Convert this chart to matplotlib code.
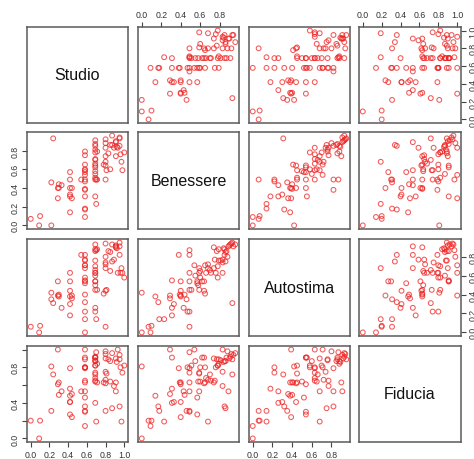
import matplotlib
matplotlib.use('Agg')
import matplotlib.pyplot as plt
import numpy as np

plt.rcParams['font.family'] = ['Liberation Sans', 'DejaVu Sans']

######################### DATA #########################

names = ['Studio', 'Benessere', 'Autostima', 'Fiducia']

studio = [0.09, 0.22, 0.00, 0.58, 0.10, 0.42, 0.58, 0.58, 0.70, 0.29,
          0.44, 0.42, 0.69, 0.58, 0.58, 0.29, 0.42, 0.44, 0.30, 0.33,
          0.22, 0.58, 0.69, 0.80, 0.71, 0.58, 0.42, 0.54, 0.70, 0.69,
          0.58, 0.42, 0.58, 0.98, 0.81, 0.85, 0.69, 0.69, 0.80, 0.78,
          0.58, 0.69, 0.97, 0.69, 0.80, 0.91, 0.96, 0.83, 1.00, 0.58,
          0.71, 0.69, 0.93, 0.89, 0.95, 0.87, 0.69, 0.80, 0.91, 0.69,
          0.24, 0.95, 0.87, 0.69, 0.69, 0.58, 0.80, 0.91, 0.85, 0.69,
          0.58, 0.42, 0.80, 0.69, 0.58, 0.95, 0.30, 0.69, 0.80, 0.58,
          0.92]

benessere = [0.00, 0.00, 0.07, 0.09, 0.10, 0.14, 0.17, 0.18, 0.23, 0.29,
             0.29, 0.31, 0.31, 0.31, 0.38, 0.40, 0.40, 0.40, 0.40, 0.43,
             0.46, 0.47, 0.49, 0.49, 0.49, 0.49, 0.49, 0.49, 0.49, 0.51,
             0.54, 0.57, 0.59, 0.59, 0.59, 0.60, 0.62, 0.64, 0.64, 0.65,
             0.65, 0.66, 0.68, 0.71, 0.74, 0.74, 0.76, 0.77, 0.78, 0.79,
             0.79, 0.81, 0.83, 0.83, 0.85, 0.86, 0.87, 0.88, 0.89, 0.91,
             0.93, 0.94, 0.96, 0.85, 0.78, 0.60, 0.92, 0.90, 0.86, 0.58,
             0.39, 0.33, 0.83, 0.70, 0.57, 0.93, 0.44, 0.55, 0.68, 0.75,
             0.84]

autostima = [0.00, 0.42, 0.06, 0.00, 0.07, 0.38, 0.32, 0.14, 0.14, 0.39,
             0.36, 0.18, 0.26, 0.55, 0.82, 0.54, 0.44, 0.39, 0.38, 0.26,
             0.35, 0.22, 0.22, 0.06, 0.45, 0.54, 0.63, 0.82, 0.87, 0.45,
             0.71, 0.54, 0.68, 0.63, 0.45, 0.65, 0.54, 0.54, 0.44, 0.41,
             0.71, 0.63, 0.68, 0.63, 0.68, 0.90, 0.63, 0.86, 0.58, 0.76,
             0.88, 0.76, 0.63, 0.77, 0.82, 0.75, 0.86, 0.80, 0.91, 0.93,
             0.31, 0.91, 0.93, 0.88, 0.70, 0.58, 0.94, 0.92, 0.85, 0.50,
             0.40, 0.30, 0.74, 0.66, 0.52, 0.95, 0.40, 0.60, 0.72, 0.77,
             0.89]

fiducia = [0.00, 0.81, 0.20, 0.14, 0.20, 0.48, 0.36, 0.31, 0.19, 1.00,
           0.50, 0.56, 0.40, 0.91, 0.79, 0.61, 0.41, 0.24, 0.63, 0.53,
           0.31, 0.80, 0.74, 0.31, 0.63, 0.30, 0.79, 0.53, 0.97, 0.82,
           1.00, 0.27, 0.53, 0.74, 0.73, 0.64, 0.91, 0.91, 0.62, 0.63,
           0.80, 0.68, 0.19, 0.65, 0.90, 0.63, 0.80, 0.89, 0.82, 0.89,
           0.84, 0.88, 1.00, 0.59, 0.36, 0.34, 0.91, 0.98, 0.53, 0.92,
           0.72, 0.94, 0.96, 0.87, 0.82, 0.80, 0.95, 0.90, 0.87, 0.64,
           0.63, 0.41, 0.75, 0.72, 0.46, 0.89, 0.49, 0.87, 0.66, 0.65,
           0.86]

data = [studio, benessere, autostima, fiducia]

# tick labels that R leaves out on the left axis of the last row
hidden_left = {3: [0.2, 0.6, 1.0]}

######################### LAYOUT #########################

W, H = 474, 460
col_px = [(27, 128), (138, 239), (249, 350), (359, 461)]
row_px = [(28, 124), (133, 230), (240, 337), (347, 443)]
frame = '#5a5a5a'


def lims(v):
    lo, hi = min(v), max(v)
    pad = 0.04 * (hi - lo)
    return lo - pad, hi + pad


def ticks_for(v):
    lo, hi = lims(v)
    t = np.round(np.arange(0, 1.001, 0.2), 1)
    return [x for x in t if lo <= x <= hi]


fig = plt.figure(figsize=(W / 100, H / 100), dpi=100)

for i in range(4):
    for j in range(4):
        x0, x1 = col_px[j]
        y0, y1 = row_px[i]
        ax = fig.add_axes([x0 / W, 1 - y1 / H, (x1 - x0) / W, (y1 - y0) / H])
        for s in ax.spines.values():
            s.set_color(frame)
            s.set_linewidth(1.1)
        ax.set_xlim(lims(data[j]))
        ax.set_ylim(lims(data[i]))

        if i == j:
            ax.text(0.5, 0.5, names[i], transform=ax.transAxes,
                    ha='center', va='center', fontsize=11.5, color='#111111')
        else:
            ax.scatter(data[j], data[i], s=12, facecolors='none',
                       edgecolors='#ee2222', linewidths=0.75, alpha=0.75)

        ax.tick_params(direction='out', length=3.5, width=0.8, color='#444444',
                       labelsize=6.3, labelcolor='#333333', pad=2)

        # x axis: top on even columns of first row, bottom on odd of last row
        if i == 0 and j % 2 == 1:
            ax.xaxis.tick_top()
            xt = ticks_for(data[j])
            ax.set_xticks(xt)
            ax.set_xticklabels(['%.1f' % t for t in xt])
        elif i == 3 and j % 2 == 0:
            xt = ticks_for(data[j])
            ax.set_xticks(xt)
            ax.set_xticklabels(['%.1f' % t for t in xt])
        else:
            ax.set_xticks([])

        # y axis: left on first column, right on last column
        if j == 0 and i % 2 == 1:
            yt = ticks_for(data[i])
            ax.set_yticks(yt)
            hid = hidden_left.get(i, [])
            ax.set_yticklabels(['' if t in hid else '%.1f' % t for t in yt],
                               rotation=90, va='center')
        elif j == 3 and i % 2 == 0:
            ax.yaxis.tick_right()
            yt = ticks_for(data[i])
            ax.set_yticks(yt)
            ax.set_yticklabels(['%.1f' % t for t in yt], rotation=90, va='center')
        else:
            ax.set_yticks([])

fig.savefig('out.png', dpi=100)
